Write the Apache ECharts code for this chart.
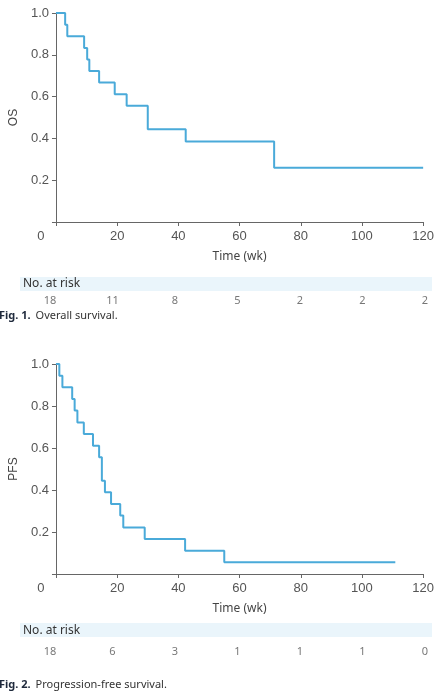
<!DOCTYPE html>
<html lang="en">
<head>
    <meta charset="UTF-8">
    <title>Survival</title>
    <script src="https://cdn.jsdelivr.net/npm/echarts@6/dist/echarts.min.js"></script>
    <style>
        html, body { margin: 0; padding: 0; background: #fff; }
        #main { width: 437px; height: 692px; }
    </style>
</head>
<body>
<div id="main"></div>
<script type="text/javascript">
    // survival curves (time in weeks, survival probability)
    var osTime = [0, 3.0, 3.7, 9.2, 10.2, 10.9, 14.1, 19.2, 23.1, 30.0, 42.4, 71.3, 120];
    var osSurv = [1, 0.944, 0.889, 0.833, 0.778, 0.722, 0.667, 0.611, 0.556, 0.444, 0.385, 0.259, 0.259];

    var pfsTime = [0, 1.1, 2.1, 5.3, 6.1, 7.0, 9.1, 12.1, 14.1, 15.0, 16.0, 18.0, 21.0, 22.0, 29.0, 42.2, 55.0, 110.9];
    var pfsSurv = [1, 0.944, 0.889, 0.833, 0.778, 0.722, 0.667, 0.611, 0.556, 0.444, 0.389, 0.333, 0.278, 0.222, 0.167, 0.111, 0.056, 0.056];

    // number at risk table
    var riskTimes = [0, 20, 40, 60, 80, 100, 120];
    var osRisk = [18, 11, 8, 5, 2, 2, 2];
    var pfsRisk = [18, 6, 3, 1, 1, 1, 0];

    var lineColor = '#4aaad9';
    var axisColor = '#666';
    var labelFont = 'Liberation Sans';
    var textFont = 'Noto Sans';

    function pairs(xs, ys) {
        return xs.map(function (x, i) { return [x, ys[i]]; });
    }

    function survX(idx, name) {
        return {
            gridIndex: idx, type: 'value', min: 0, max: 120, interval: 20,
            name: name, nameLocation: 'middle', nameGap: 29,
            nameTextStyle: { fontFamily: textFont, fontSize: 12, color: '#444' },
            axisLine: { lineStyle: { color: axisColor } },
            axisTick: { length: 4, lineStyle: { color: axisColor } },
            splitLine: { show: false },
            axisLabel: {
                fontFamily: labelFont, fontSize: 13, color: '#555', margin: 8,
                formatter: function (v) { return v === 0 ? '{z|0}' : String(v); },
                rich: { z: { fontFamily: labelFont, fontSize: 13, color: '#555', padding: [0, 30, 0, 0] } }
            }
        };
    }

    function survY(idx, name) {
        return {
            gridIndex: idx, type: 'value', min: 0, max: 1, interval: 0.2,
            name: name, nameLocation: 'middle', nameGap: 32, nameRotate: 90,
            nameTextStyle: { fontFamily: labelFont, fontSize: 12, color: '#444' },
            axisLine: { show: true, lineStyle: { color: axisColor } },
            axisTick: { show: true, length: 4, lineStyle: { color: axisColor } },
            splitLine: { show: false },
            axisLabel: {
                fontFamily: labelFont, fontSize: 13, color: '#555', margin: 7,
                formatter: function (v) { return v === 0 ? '' : v.toFixed(1); }
            }
        };
    }

    function riskX(idx) {
        return { gridIndex: idx, type: 'value', min: 0, max: 120, show: false };
    }

    function riskY(idx) {
        return { gridIndex: idx, type: 'value', min: 0, max: 1, show: false };
    }

    function riskSeries(idx, vals) {
        return {
            type: 'scatter', xAxisIndex: idx, yAxisIndex: idx, symbolSize: 1, z: 5,
            itemStyle: { color: 'rgba(0,0,0,0)' },
            label: {
                show: true, position: 'inside', fontFamily: textFont, fontSize: 11, color: '#555',
                formatter: function (p) { return String(p.data[2]); }
            },
            data: riskTimes.map(function (t, i) { return [t, 0.5, vals[i]]; })
        };
    }

    function caption(top, num, text) {
        return {
            left: -1, top: top, padding: 0,
            text: '{b|' + num + '} {n|' + text + '}',
            textStyle: {
                fontWeight: 'normal',
                rich: {
                    b: { fontFamily: textFont, fontSize: 11, fontWeight: 'bold', color: '#1f2a3c' },
                    n: { fontFamily: textFont, fontSize: 11, fontWeight: 'normal', color: '#333' }
                }
            }
        };
    }

    var myChart = echarts.init(document.getElementById('main'));
    myChart.setOption({
        animation: false,
        title: [
            caption(307, 'Fig. 1.', 'Overall survival.'),
            caption(676, 'Fig. 2.', 'Progression-free survival.')
        ],
        grid: [
            { left: 50, top: 13, width: 375, height: 209 },
            { left: 50, top: 364, width: 375, height: 210 },
            { left: 50, top: 295, width: 375, height: 12 },
            { left: 50, top: 646, width: 375, height: 12 }
        ],
        xAxis: [survX(0, 'Time (wk)'), survX(1, 'Time (wk)'), riskX(2), riskX(3)],
        yAxis: [survY(0, 'OS'), survY(1, 'PFS'), riskY(2), riskY(3)],
        graphic: [
            { type: 'rect', shape: { x: 20, y: 277, width: 412, height: 14 }, style: { fill: '#eaf5fb' }, z: -1 },
            { type: 'text', left: 23, top: 278, style: { text: 'No. at risk', font: '12px "Noto Sans"', fill: '#333' } },
            { type: 'rect', shape: { x: 20, y: 623, width: 412, height: 14 }, style: { fill: '#eaf5fb' }, z: -1 },
            { type: 'text', left: 23, top: 625, style: { text: 'No. at risk', font: '12px "Noto Sans"', fill: '#333' } }
        ],
        series: [
            {
                name: 'OS', type: 'line', step: 'end', xAxisIndex: 0, yAxisIndex: 0,
                showSymbol: false, lineStyle: { color: lineColor, width: 2 },
                data: pairs(osTime, osSurv)
            },
            {
                name: 'PFS', type: 'line', step: 'end', xAxisIndex: 1, yAxisIndex: 1,
                showSymbol: false, lineStyle: { color: lineColor, width: 2 },
                data: pairs(pfsTime, pfsSurv)
            },
            riskSeries(2, osRisk),
            riskSeries(3, pfsRisk)
        ]
    });
</script>
</body>
</html>
